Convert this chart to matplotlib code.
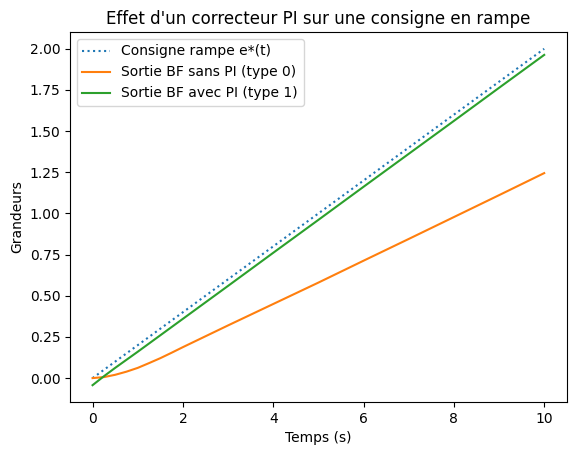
import numpy as np
import matplotlib
matplotlib.use("Agg")
import matplotlib.pyplot as plt

# valeurs
t = [0, 0.25, 0.5, 0.75, 1, 1.25, 1.5, 1.75, 2, 2.5, 3, 4, 5, 6, 7, 8, 9, 10]
consigne = [0, 0.05, 0.1, 0.15, 0.2, 0.25, 0.3, 0.35, 0.4, 0.5, 0.6, 0.8, 1.0, 1.2, 1.4, 1.6, 1.8, 2.0]
sortie_sans_pi = [0, 0.006, 0.02, 0.039, 0.062, 0.091, 0.121, 0.154, 0.188, 0.254, 0.32, 0.45, 0.58, 0.713, 0.845, 0.978, 1.111, 1.245]
sortie_avec_pi = [-0.043, 0.011, 0.062, 0.111, 0.16, 0.21, 0.26, 0.31, 0.36, 0.46, 0.56, 0.761, 0.961, 1.162, 1.362, 1.562, 1.763, 1.963]

fig = plt.figure(figsize=(5.76, 4.55), dpi=100)
plt.subplots_adjust(left=0.1215, right=0.984, bottom=0.1165, top=0.9297)
plt.plot(t, consigne, ':', label='Consigne rampe e*(t)')
plt.plot(t, sortie_sans_pi, label='Sortie BF sans PI (type 0)')
plt.plot(t, sortie_avec_pi, label='Sortie BF avec PI (type 1)')
plt.title("Effet d'un correcteur PI sur une consigne en rampe")
plt.xlabel('Temps (s)')
plt.ylabel('Grandeurs')
plt.legend()
plt.savefig('out.png', dpi=100)
